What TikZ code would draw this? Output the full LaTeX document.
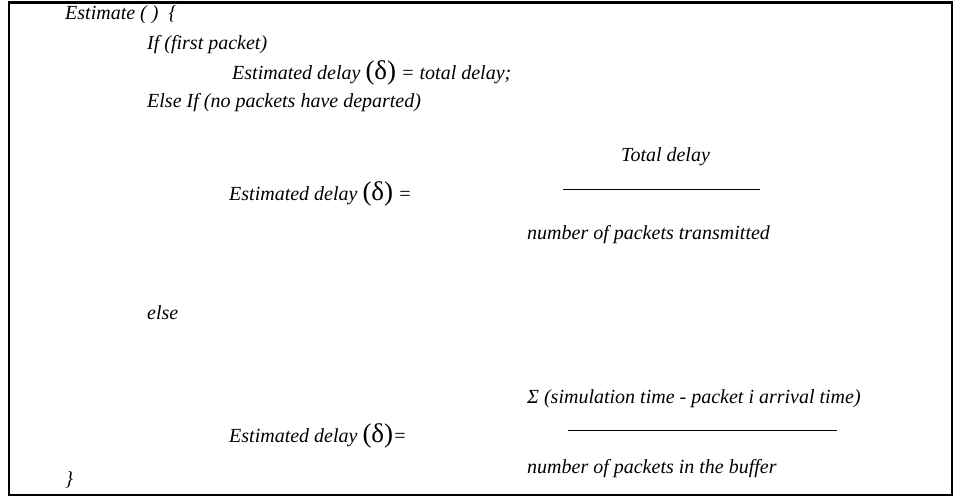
\documentclass[tikz,border=0pt]{standalone}
\usepackage{fontspec}
\setmainfont{Liberation Serif}
% upright, enlarged delta in parentheses
\newcommand{\dparen}{{\upshape\fontsize{27}{27}\selectfont(δ)}}

\begin{document}
\begin{tikzpicture}[x=1pt,y=-1pt,every node/.style={font=\fontsize{20}{24}\selectfont\itshape,inner sep=0pt,anchor=base west}]
  \useasboundingbox (0,0) rectangle (960,503);
  \draw[line width=2.2pt] (9,2.5) rectangle (952,495);
  \node (est) at (65,20) {Estimate ( )\ \ \{};
  \node (iffirst) at (147,49) {If (first packet)};
  \node (estfirst) at (232,79) {Estimated delay \dparen{} = total delay;};
  \node (elseif) at (147,107) {Else If (no packets have departed)};
  % average over transmitted packets
  \node (totdelay) at (621,161) {Total delay};
  \node (estavg) at (229,200) {Estimated delay \dparen{} =};
  \draw[line width=0.8pt] (563,189) -- (760,189);
  \node (ntrans) at (527,239) {number of packets transmitted};
  \node (elsekw) at (147,319) {else};
  % average over buffered packets
  \node (sigma) at (527,403) {Σ (simulation time - packet i arrival time)};
  \node (estbuf) at (229,442) {Estimated delay \dparen{}=};
  \draw[line width=0.8pt] (568,430) -- (837,430);
  \node (nbuf) at (527,473) {number of packets in the buffer};
  \node (close) at (65,485) {\}};
\end{tikzpicture}
\end{document}
